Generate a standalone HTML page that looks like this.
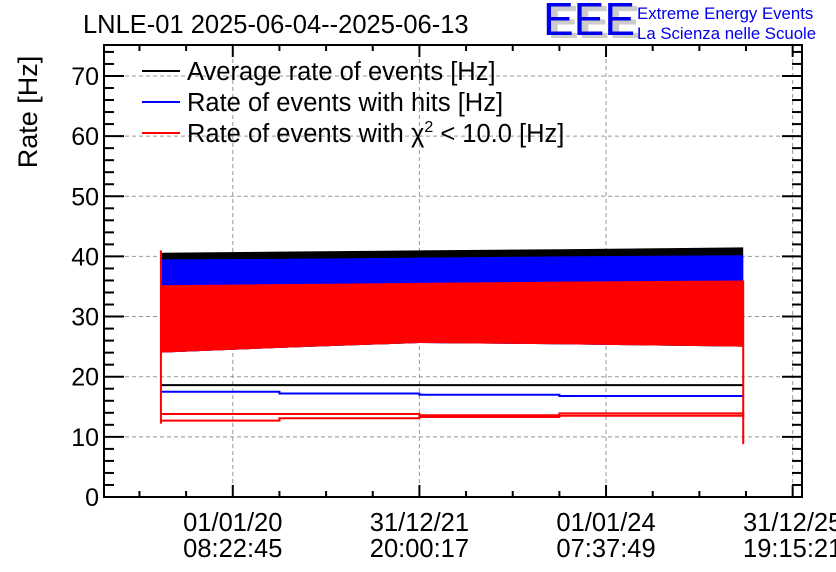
<!DOCTYPE html>
<html><head><meta charset="utf-8"><style>
body{margin:0;background:#fff;}
svg{display:block;font-family:"Liberation Sans",sans-serif;}
</style></head><body>
<svg id="chart" width="836" height="572" viewBox="0 0 836 572">
<text x="83" y="33" font-size="25.5">LNLE-01 2025-06-04--2025-06-13</text>
<g>
<text x="548" y="38" font-size="46" fill="#ccc" font-weight="bold">EEE</text>
<text x="543" y="35" font-size="46" fill="#0000ee">EEE</text>
<text x="637" y="19" font-size="16.8" fill="#0000ee">Extreme Energy Events</text>
<text x="637" y="39" font-size="16.8" fill="#0000ee">La Scienza nelle Scuole</text>
</g>
<text transform="translate(37,112) rotate(-90)" text-anchor="middle" font-size="27">Rate [Hz]</text>
<g id="grid"></g><g id="marks"></g><g id="axes"></g>
<g>
<line x1="142" y1="71" x2="180" y2="71" stroke="#000" stroke-width="2"/>
<text x="187" y="80" font-size="25.5">Average rate of events [Hz]</text>
<line x1="142" y1="102" x2="180" y2="102" stroke="#00f" stroke-width="2"/>
<text x="187" y="111" font-size="25.5">Rate of events with hits [Hz]</text>
<line x1="142" y1="133" x2="180" y2="133" stroke="#f00" stroke-width="2"/>
<text x="187" y="142" font-size="25.5">Rate of events with χ<tspan font-size="16" dy="-10">2</tspan><tspan dy="10"> &lt; 10.0 [Hz]</tspan></text>
</g>
</svg>
<script>
const times=[2019.23,2020.5,2022.0,2023.5,2025.47];
const blackHigh=[40.6,40.8,41.0,41.2,41.5];
const blueHigh=[39.5,39.6,39.8,40.0,40.2];
const redHigh=[35.2,35.4,35.6,35.8,36.0];
const redLow=[24.0,24.8,25.6,25.4,25.0];
const blackLow=[18.6,18.6,18.6,18.6,18.6];
const blueLow=[17.5,17.2,17.0,16.8,16.6];
const redLow2a=[13.8,13.8,13.6,13.9,14.2];
const redLow2b=[12.7,13.1,13.3,13.5,13.2];
const yTicks=[0,10,20,30,40,50,60,70];
const xTickTimes=[2020.0,2022.0,2024.0,2026.0];
const xTickLabels=[["01/01/20","08:22:45"],["31/12/21","20:00:17"],["01/01/24","07:37:49"],["31/12/25","19:15:21"]];
const L=104,R=802,T=45,B=497,X0=2018.62,X1=2026.1,Y1=75.15;
const sx=t=>L+(t-X0)/(X1-X0)*(R-L);
const sy=v=>B-v/Y1*(B-T);
const NS="http://www.w3.org/2000/svg";
function mk(tag,parent,attrs){const e=document.createElementNS(NS,tag);for(const k in attrs)e.setAttribute(k,attrs[k]);parent.appendChild(e);return e;}
const grid=document.getElementById('grid'),marks=document.getElementById('marks'),axes=document.getElementById('axes');
yTicks.forEach(v=>{if(v===0)return;const l=mk('line',grid,{x1:L,x2:R,y1:sy(v),y2:sy(v),stroke:'#999','stroke-dasharray':'4,3'});

});
xTickTimes.forEach(t=>{const l=mk('line',grid,{x1:sx(t),x2:sx(t),y1:T,y2:B,stroke:'#999','stroke-dasharray':'4,3'});

});
function band(hi,lo,color,name){let pts=[];times.forEach((t,i)=>pts.push(sx(t)+','+sy(hi[i])));for(let i=times.length-1;i>=0;i--)pts.push(sx(times[i])+','+sy(lo[i]));
const p=mk('polygon',marks,{points:pts.join(' '),fill:color});

}
band(blackHigh,redLow,'#000','band-average');
band(blueHigh,redLow,'#00f','band-hits');
band(redHigh,redLow,'#f00','band-chi2');
function line(vals,color,name){let pts=[];times.forEach((t,i)=>{pts.push(sx(t)+','+sy(vals[i]));if(i<times.length-1)pts.push(sx(times[i+1])+','+sy(vals[i]));});
const p=mk('polyline',marks,{points:pts.join(' '),fill:'none',stroke:color,'stroke-width':2});

}
line(blackLow,'#000','line-average-low');
line(blueLow,'#00f','line-hits-low');
line(redLow2a,'#f00','line-chi2-low-a');
line(redLow2b,'#f00','line-chi2-low-b');
const te=times[times.length-1];
const v1=mk('line',marks,{x1:sx(te),x2:sx(te),y1:sy(8.8),y2:sy(36),stroke:'#f00','stroke-width':2});


const v0=mk('line',marks,{x1:sx(times[0]),x2:sx(times[0]),y1:sy(12.2),y2:sy(41),stroke:'#f00','stroke-width':2});


const fr=mk('rect',axes,{x:L,y:T,width:R-L,height:B-T,fill:'none',stroke:'#000','stroke-width':2});


for(let v=0;v<=75;v+=2){const maj=v%10===0;const len=maj?20:10;
mk('line',axes,{x1:L,x2:L+len,y1:sy(v),y2:sy(v),stroke:'#000','stroke-width':2});
mk('line',axes,{x1:R,x2:R-len,y1:sy(v),y2:sy(v),stroke:'#000','stroke-width':2});}
yTicks.forEach(v=>{const t=mk('text',axes,{x:L-5,y:sy(v)+9,'text-anchor':'end','font-size':25});t.textContent=v;

});
const step=0.5;
for(let t=2018.5;t<=X1;t+=step){if(t<X0)continue;const maj=Math.abs(t-Math.round(t/2)*2)<1e-6;const len=maj?12:6;
mk('line',axes,{x1:sx(t),x2:sx(t),y1:B,y2:B-len,stroke:'#000','stroke-width':2});
mk('line',axes,{x1:sx(t),x2:sx(t),y1:T,y2:T+len,stroke:'#000','stroke-width':2});}
xTickTimes.forEach((t,i)=>{[0,1].forEach(j=>{const e=mk('text',axes,{x:sx(t),y:531+j*26,'text-anchor':'middle','font-size':25.5});e.textContent=xTickLabels[i][j];

});});
</script>
</body></html>
